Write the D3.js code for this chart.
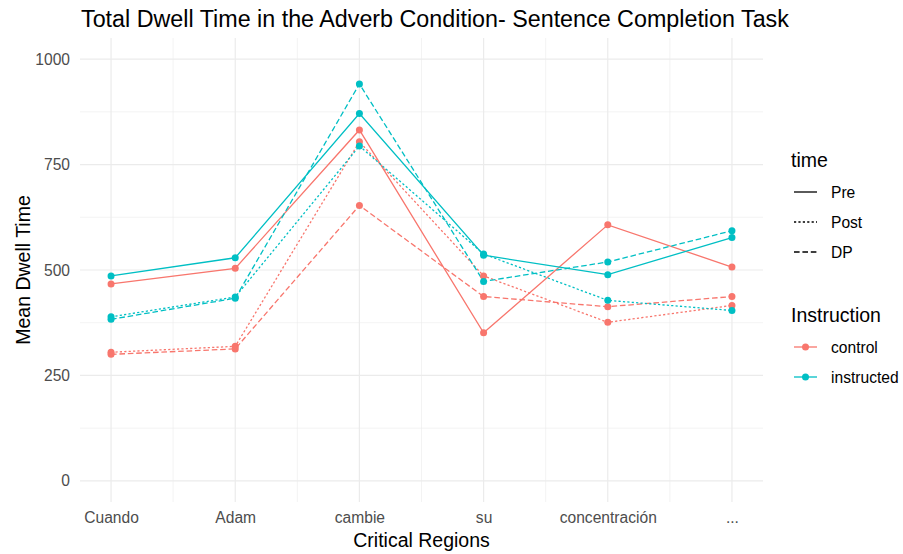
<!DOCTYPE html>
<html>
<head>
<meta charset="utf-8">
<script src="https://cdn.jsdelivr.net/npm/d3@7"></script>
<style>
  body { margin: 0; background: #fff; }
  text { font-family: "Liberation Sans", Arial, sans-serif; }
</style>
</head>
<body>
<div id="chart"></div>
<script>
const regions = ["Cuando", "Adam", "cambie", "su", "concentración", "..."];
const times = ["Pre", "Post", "DP"];
const groups = ["control", "instructed"];

// mean dwell time per region
const controlPre  = [467, 504, 832, 351, 607, 507];
const controlPost = [305, 319, 804, 486, 376, 416];
const controlDP   = [300, 313, 653, 437, 413, 437];
const instrPre    = [486, 529, 871, 535, 489, 577];
const instrPost   = [389, 436, 794, 538, 428, 404];
const instrDP     = [383, 433, 941, 473, 519, 593];

const yTicks = [0, 250, 500, 750, 1000];
const yMinor = [125, 375, 625, 875];

const chartWidth = 903;
const chartHeight = 554;
var colors = { control: "#F8766D", instructed: "#00BFC4" };
var dashes = { Pre: null, Post: "2.2,2.2", DP: "5.6,2.8" };

var series = [
    { group: "control", time: "Pre", values: controlPre },
    { group: "control", time: "Post", values: controlPost },
    { group: "control", time: "DP", values: controlDP },
    { group: "instructed", time: "Pre", values: instrPre },
    { group: "instructed", time: "Post", values: instrPost },
    { group: "instructed", time: "DP", values: instrDP }
];

var svg = d3.select("#chart").append("svg")
    .attr("width", chartWidth)
    .attr("height", chartHeight);

// continuous x (1..6) with 5% expansion, like ggplot
var x = d3.scaleLinear().domain([0.75, 6.25]).range([80, 763]);
var y = d3.scaleLinear().domain([-50, 1050]).range([502, 38]);

var grid = svg.append("g");
var xMinor = d3.range(1.5, 6, 1);
grid.selectAll(".ymin").data(yMinor).enter().append("line")
    .attr("x1", 80).attr("x2", 763)
    .attr("y1", d => y(d)).attr("y2", d => y(d))
    .attr("stroke", "#EBEBEB").attr("stroke-width", 0.6);
grid.selectAll(".xmin").data(xMinor).enter().append("line")
    .attr("y1", 38).attr("y2", 502)
    .attr("x1", d => x(d)).attr("x2", d => x(d))
    .attr("stroke", "#EBEBEB").attr("stroke-width", 0.6);
grid.selectAll(".ymaj").data(yTicks).enter().append("line")
    .attr("x1", 80).attr("x2", 763)
    .attr("y1", d => y(d)).attr("y2", d => y(d))
    .attr("stroke", "#EBEBEB").attr("stroke-width", 1.2);
grid.selectAll(".xmaj").data(regions).enter().append("line")
    .attr("y1", 38).attr("y2", 502)
    .attr("x1", (d, i) => x(i + 1)).attr("x2", (d, i) => x(i + 1))
    .attr("stroke", "#EBEBEB").attr("stroke-width", 1.2);

// axes (text only, theme_minimal has no lines)
var yAxis = svg.append("g").attr("transform", "translate(80,0)")
    .call(d3.axisLeft(y).tickValues(yTicks).tickFormat(d3.format("d")).tickSize(0).tickPadding(10));
var xAxis = svg.append("g").attr("transform", "translate(0,502)")
    .call(d3.axisBottom(x).tickValues(d3.range(1, 7)).tickFormat(d => regions[d - 1]).tickSize(0).tickPadding(10));
[yAxis, xAxis].forEach(function(a) {
    a.select(".domain").remove();
    a.selectAll("text")
        .style("font-family", "'Liberation Sans', Arial, sans-serif")
        .style("font-size", "15.6px")
        .attr("fill", "#4D4D4D");
});

// lines then points
var line = d3.line().x((d, i) => x(i + 1)).y(d => y(d));
svg.selectAll(".series").data(series).enter().append("path")
    .attr("d", d => line(d.values))
    .attr("fill", "none")
    .attr("stroke", d => colors[d.group])
    .attr("stroke-width", 1.3)
    .attr("stroke-dasharray", d => dashes[d.time]);

series.forEach(function(s) {
    svg.selectAll(null).data(s.values).enter().append("circle")
        .attr("cx", (d, i) => x(i + 1))
        .attr("cy", d => y(d))
        .attr("r", 3.5)
        .attr("fill", colors[s.group]);
});

// titles
svg.append("text").attr("x", 81).attr("y", 27)
    .style("font-size", "23.3px").attr("fill", "#000")
    .text("Total Dwell Time in the Adverb Condition- Sentence Completion Task");
svg.append("text").attr("x", 421.5).attr("y", 547)
    .attr("text-anchor", "middle").style("font-size", "19.5px")
    .text("Critical Regions");
svg.append("text").attr("transform", "translate(30,270) rotate(-90)")
    .attr("text-anchor", "middle").style("font-size", "19.5px")
    .text("Mean Dwell Time");

// legends
var legend = svg.append("g");
legend.append("text").attr("x", 791).attr("y", 167).style("font-size", "19.5px").text("time");
times.forEach(function(t, i) {
    var ly = 192 + i * 30;
    legend.append("line").attr("x1", 794).attr("x2", 817).attr("y1", ly).attr("y2", ly)
        .attr("stroke", "#000").attr("stroke-width", 1.3)
        .attr("stroke-dasharray", dashes[t]);
    legend.append("text").attr("x", 831).attr("y", ly + 5.5).style("font-size", "15.6px").text(t);
});
legend.append("text").attr("x", 791).attr("y", 322).style("font-size", "19.5px").text("Instruction");
groups.forEach(function(g, i) {
    var ly = 347 + i * 30;
    legend.append("line").attr("x1", 794).attr("x2", 817).attr("y1", ly).attr("y2", ly)
        .attr("stroke", colors[g]).attr("stroke-width", 1.3);
    legend.append("circle").attr("cx", 805.5).attr("cy", ly).attr("r", 3.5).attr("fill", colors[g]);
    legend.append("text").attr("x", 831).attr("y", ly + 5.5).style("font-size", "15.6px").text(g);
});
</script>
</body>
</html>
